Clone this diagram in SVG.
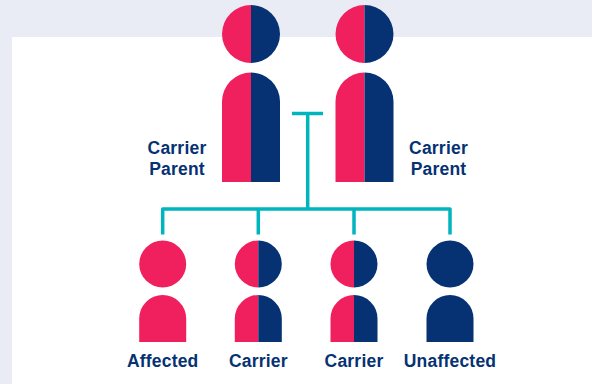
<svg xmlns="http://www.w3.org/2000/svg" width="592" height="384" viewBox="0 0 592 384">
<style>
.p{fill:#f0205e}.n{fill:#063273}
.l{font-family:"Liberation Sans",Arial,sans-serif;font-weight:700;font-size:17.5px;letter-spacing:.2px;fill:#063273;text-anchor:middle}
.c{fill:none;stroke:#00b5bd;stroke-width:3.5;stroke-linejoin:round}
</style>
<defs>
<g id="big"><path class="p" d="M0 5A29 29 0 0 0 0 63ZM0 72.5A29 29 0 0 0-29 101.500V182H0Z"/><path class="n" d="M0 5A29 29 0 0 1 0 63ZM0 72.500A29 29 0 0 1 29 101.500V182H0Z"/></g>
<g id="half"><path class="p" d="M0 240.500A23.500 23.500 0 0 0 0 287.500ZM0 295A23.500 23.500 0 0 0-23.500 318.500V342H0Z"/><path class="n" d="M0 240.500A23.500 23.500 0 0 1 0 287.500ZM0 295A23.500 23.500 0 0 1 23.500 318.500V342H0Z"/></g>
<g id="full"><circle cx="0" cy="264" r="23.500"/><path d="M-23.500 342V318.500A23.500 23.500 0 0 1 23.500 318.500V342Z"/></g>
</defs>
<rect width="592" height="384" fill="#e9ecf4"/>
<rect x="12" y="37" width="580" height="347" fill="#fff"/>
<g id="connectors"><path class="c" d="M292 113.500H323M307.700 113.500V209M162.700 234.500V209H450V234.500M258.300 209V234.500M354 209V234.500"/></g>
<g id="parent-left"><use href="#big" x="251"/><text class="l" x="177" y="154">Carrier</text><text class="l" x="177" y="175">Parent</text></g>
<g id="parent-right"><use href="#big" x="364.500"/><text class="l" x="438.500" y="154">Carrier</text><text class="l" x="438.500" y="175">Parent</text></g>
<g id="child-affected"><use href="#full" x="162.700" class="p"/><text class="l" x="162.700" y="367.300">Affected</text></g>
<g id="child-carrier-1"><use href="#half" x="258.300"/><text class="l" x="258.300" y="367.300">Carrier</text></g>
<g id="child-carrier-2"><use href="#half" x="354"/><text class="l" x="354" y="367.300">Carrier</text></g>
<g id="child-unaffected"><use href="#full" x="450" class="n"/><text class="l" x="450" y="367.300">Unaffected</text></g>
</svg>
